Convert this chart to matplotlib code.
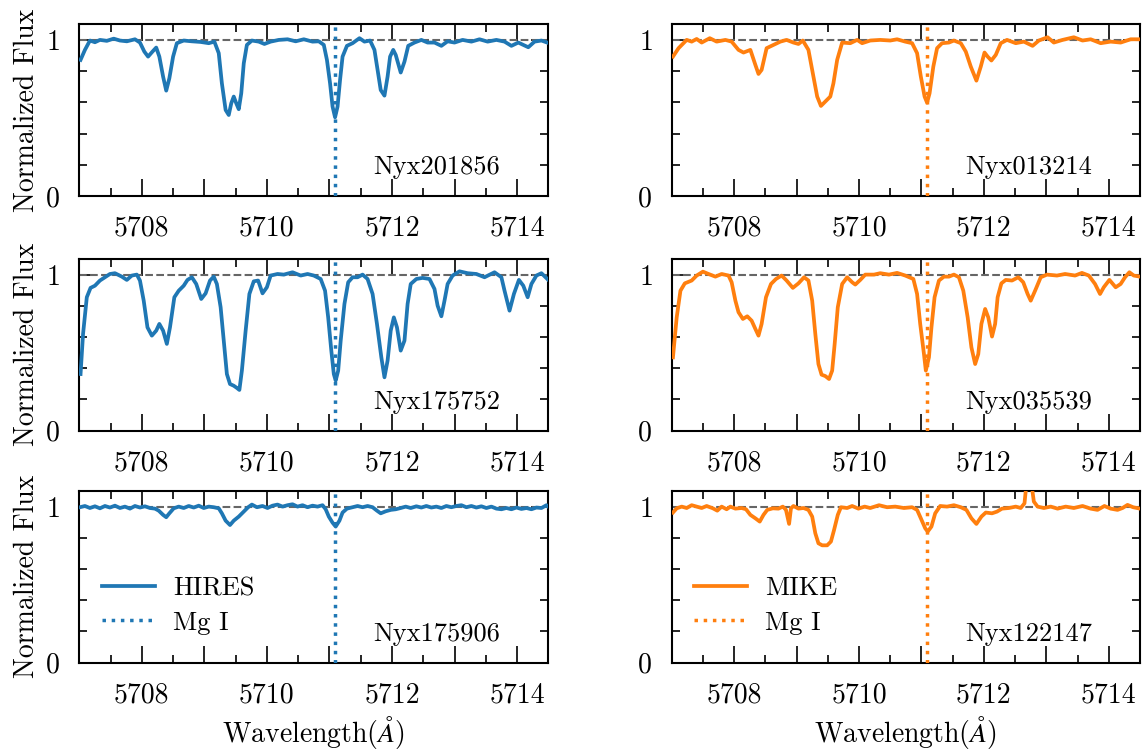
import matplotlib
matplotlib.use("Agg")
import matplotlib.pyplot as plt
from matplotlib.ticker import MultipleLocator, FixedLocator, FuncFormatter

plt.rcParams['font.family'] = ['serif']
plt.rcParams['font.serif'] = ['cmr10', 'DejaVu Serif']
plt.rcParams['mathtext.fontset'] = 'cm'
plt.rcParams['axes.formatter.use_mathtext'] = True

# ---------------- data ----------------
mg_line = 5711.09
instruments = ["HIRES", "MIKE"]
line_label = "Mg I"
colors = ["#1f77b4", "#ff7f0e"]

wave_nyx201856 = [5707.02, 5707.09, 5707.17, 5707.25, 5707.33, 5707.44, 5707.55, 5707.65, 5707.76, 5707.89,
                  5707.97, 5708.04, 5708.10, 5708.17, 5708.23, 5708.28, 5708.34, 5708.39, 5708.44, 5708.50,
                  5708.56, 5708.67, 5708.80, 5708.94, 5709.07, 5709.16, 5709.23, 5709.28, 5709.34, 5709.39,
                  5709.43, 5709.47, 5709.51, 5709.55, 5709.59, 5709.63, 5709.68, 5709.76, 5709.87, 5709.96,
                  5710.06, 5710.19, 5710.33, 5710.46, 5710.59, 5710.73, 5710.83, 5710.91, 5710.96, 5711.01,
                  5711.05, 5711.09, 5711.13, 5711.17, 5711.21, 5711.28, 5711.37, 5711.48, 5711.56, 5711.65,
                  5711.72, 5711.77, 5711.82, 5711.88, 5711.93, 5711.97, 5712.02, 5712.06, 5712.14, 5712.20,
                  5712.26, 5712.36, 5712.47, 5712.57, 5712.68, 5712.79, 5712.89, 5713.00, 5713.13, 5713.27,
                  5713.40, 5713.53, 5713.67, 5713.80, 5713.91, 5714.02, 5714.18, 5714.28, 5714.39, 5714.51]
flux_nyx201856 = [0.872, 0.936, 0.996, 0.985, 1.000, 0.994, 1.008, 0.996, 0.991, 1.004,
                  0.983, 0.925, 0.893, 0.925, 0.951, 0.893, 0.765, 0.675, 0.754, 0.893,
                  0.979, 0.996, 0.991, 0.987, 0.979, 0.989, 0.915, 0.722, 0.551, 0.519,
                  0.594, 0.637, 0.594, 0.556, 0.658, 0.850, 0.968, 0.996, 0.989, 0.974,
                  0.989, 1.000, 1.004, 0.991, 1.004, 0.989, 0.991, 0.968, 0.872, 0.722,
                  0.573, 0.504, 0.573, 0.744, 0.893, 0.962, 0.979, 1.011, 0.989, 0.996,
                  0.936, 0.808, 0.679, 0.643, 0.765, 0.893, 0.936, 0.904, 0.791, 0.861,
                  0.962, 0.983, 1.000, 0.983, 0.983, 0.962, 0.991, 0.983, 1.000, 0.989,
                  1.004, 0.989, 1.000, 0.989, 0.962, 0.983, 0.953, 0.989, 0.996, 0.979]

wave_nyx013214 = [5707.02, 5707.11, 5707.24, 5707.32, 5707.40, 5707.48, 5707.61, 5707.72, 5707.86, 5707.96,
                  5708.07, 5708.15, 5708.26, 5708.34, 5708.39, 5708.44, 5708.52, 5708.63, 5708.74, 5708.84,
                  5708.95, 5709.03, 5709.10, 5709.19, 5709.26, 5709.33, 5709.39, 5709.46, 5709.54, 5709.59,
                  5709.65, 5709.73, 5709.86, 5709.97, 5710.05, 5710.18, 5710.34, 5710.50, 5710.61, 5710.74,
                  5710.85, 5710.93, 5710.99, 5711.05, 5711.09, 5711.13, 5711.19, 5711.25, 5711.33, 5711.44,
                  5711.52, 5711.63, 5711.71, 5711.79, 5711.88, 5711.95, 5712.01, 5712.06, 5712.12, 5712.19,
                  5712.27, 5712.37, 5712.51, 5712.64, 5712.78, 5712.88, 5713.02, 5713.12, 5713.26, 5713.44,
                  5713.58, 5713.71, 5713.87, 5714.03, 5714.19, 5714.35, 5714.50]
flux_nyx013214 = [0.893, 0.947, 1.000, 0.989, 1.006, 0.983, 1.011, 0.989, 1.000, 0.989,
                  0.936, 0.919, 0.936, 0.840, 0.782, 0.808, 0.947, 0.968, 0.989, 1.000,
                  0.983, 0.974, 0.996, 0.936, 0.786, 0.637, 0.577, 0.605, 0.637, 0.722,
                  0.872, 0.983, 0.979, 1.000, 0.979, 0.996, 1.000, 0.996, 1.004, 0.989,
                  0.979, 0.915, 0.765, 0.637, 0.598, 0.658, 0.829, 0.947, 0.979, 0.983,
                  0.996, 0.979, 0.925, 0.829, 0.739, 0.829, 0.919, 0.893, 0.868, 0.904,
                  0.979, 1.000, 0.979, 0.989, 0.962, 0.996, 1.017, 0.983, 1.000, 1.017,
                  0.996, 1.004, 0.979, 0.989, 0.983, 1.004, 1.004]

wave_nyx175752 = [5707.02, 5707.06, 5707.12, 5707.18, 5707.25, 5707.33, 5707.41, 5707.49, 5707.57, 5707.68,
                  5707.76, 5707.84, 5707.92, 5707.97, 5708.03, 5708.09, 5708.16, 5708.23, 5708.28, 5708.34,
                  5708.40, 5708.45, 5708.52, 5708.59, 5708.67, 5708.73, 5708.80, 5708.87, 5708.95, 5709.02,
                  5709.09, 5709.15, 5709.20, 5709.26, 5709.31, 5709.36, 5709.41, 5709.47, 5709.52, 5709.56,
                  5709.60, 5709.66, 5709.72, 5709.79, 5709.86, 5709.93, 5710.00, 5710.06, 5710.17, 5710.27,
                  5710.41, 5710.54, 5710.65, 5710.75, 5710.86, 5710.93, 5710.98, 5711.03, 5711.07, 5711.10,
                  5711.14, 5711.18, 5711.24, 5711.30, 5711.37, 5711.45, 5711.53, 5711.61, 5711.69, 5711.76,
                  5711.83, 5711.88, 5711.93, 5711.98, 5712.03, 5712.08, 5712.14, 5712.20, 5712.25, 5712.30,
                  5712.39, 5712.49, 5712.60, 5712.68, 5712.73, 5712.79, 5712.84, 5712.89, 5712.97, 5713.08,
                  5713.21, 5713.35, 5713.48, 5713.64, 5713.75, 5713.80, 5713.88, 5713.95, 5714.03, 5714.10,
                  5714.17, 5714.23, 5714.31, 5714.39, 5714.51]
flux_nyx175752 = [0.363, 0.620, 0.855, 0.915, 0.929, 0.962, 0.983, 1.004, 1.009, 0.987,
                  0.966, 0.994, 1.000, 0.962, 0.833, 0.662, 0.609, 0.641, 0.684, 0.641,
                  0.556, 0.662, 0.855, 0.897, 0.929, 0.966, 0.983, 0.940, 0.844, 0.880,
                  0.962, 0.987, 0.940, 0.791, 0.577, 0.363, 0.299, 0.288, 0.274, 0.261,
                  0.385, 0.641, 0.876, 0.957, 0.962, 0.880, 0.919, 0.994, 1.004, 1.000,
                  1.015, 0.994, 1.004, 0.994, 0.972, 0.897, 0.726, 0.513, 0.363, 0.321,
                  0.385, 0.577, 0.812, 0.951, 0.983, 0.983, 1.000, 0.972, 0.876, 0.684,
                  0.470, 0.342, 0.449, 0.641, 0.726, 0.662, 0.513, 0.577, 0.812, 0.940,
                  0.972, 0.979, 0.972, 0.908, 0.801, 0.733, 0.833, 0.940, 0.994, 1.021,
                  1.009, 1.004, 0.983, 1.015, 0.983, 0.897, 0.769, 0.876, 0.966, 0.929,
                  0.855, 0.940, 0.994, 1.009, 0.962]

wave_nyx035539 = [5707.02, 5707.08, 5707.14, 5707.21, 5707.32, 5707.40, 5707.50, 5707.59, 5707.70, 5707.80,
                  5707.91, 5707.96, 5708.02, 5708.07, 5708.14, 5708.21, 5708.28, 5708.34, 5708.39, 5708.44,
                  5708.51, 5708.59, 5708.67, 5708.76, 5708.84, 5708.94, 5709.03, 5709.12, 5709.19, 5709.25,
                  5709.30, 5709.35, 5709.40, 5709.46, 5709.52, 5709.57, 5709.61, 5709.66, 5709.73, 5709.81,
                  5709.89, 5709.94, 5710.02, 5710.10, 5710.24, 5710.34, 5710.48, 5710.61, 5710.74, 5710.87,
                  5710.93, 5710.98, 5711.04, 5711.07, 5711.12, 5711.16, 5711.21, 5711.28, 5711.36, 5711.44,
                  5711.52, 5711.60, 5711.67, 5711.74, 5711.80, 5711.86, 5711.91, 5711.96, 5712.02, 5712.07,
                  5712.13, 5712.18, 5712.22, 5712.28, 5712.35, 5712.45, 5712.55, 5712.63, 5712.70, 5712.75,
                  5712.82, 5712.91, 5713.01, 5713.17, 5713.30, 5713.46, 5713.57, 5713.68, 5713.78, 5713.86,
                  5713.92, 5714.01, 5714.11, 5714.19, 5714.26, 5714.33, 5714.40, 5714.50]
flux_nyx035539 = [0.470, 0.726, 0.897, 0.944, 0.962, 0.994, 1.019, 1.004, 0.987, 1.004,
                  0.994, 0.951, 0.833, 0.759, 0.716, 0.733, 0.705, 0.652, 0.609, 0.684,
                  0.855, 0.940, 0.972, 0.994, 0.962, 0.915, 0.944, 0.983, 0.962, 0.833,
                  0.620, 0.427, 0.359, 0.350, 0.331, 0.385, 0.556, 0.791, 0.940, 0.983,
                  0.951, 0.936, 0.966, 1.000, 1.000, 1.009, 1.000, 1.011, 0.994, 0.972,
                  0.876, 0.684, 0.491, 0.385, 0.470, 0.662, 0.855, 0.962, 0.987, 0.987,
                  1.000, 0.983, 0.897, 0.726, 0.534, 0.427, 0.491, 0.684, 0.780, 0.726,
                  0.603, 0.684, 0.855, 0.944, 0.966, 0.962, 0.983, 0.951, 0.876, 0.833,
                  0.897, 0.983, 1.000, 0.994, 1.004, 0.994, 1.011, 0.994, 0.940, 0.876,
                  0.919, 0.966, 0.919, 0.940, 0.983, 1.015, 0.994, 0.987]

wave_nyx175906 = [5707.01, 5707.09, 5707.17, 5707.25, 5707.33, 5707.41, 5707.49, 5707.57, 5707.65, 5707.73,
                  5707.81, 5707.89, 5707.97, 5708.05, 5708.13, 5708.21, 5708.27, 5708.34, 5708.39, 5708.44,
                  5708.51, 5708.59, 5708.67, 5708.75, 5708.83, 5708.91, 5708.99, 5709.07, 5709.15, 5709.23,
                  5709.28, 5709.34, 5709.41, 5709.47, 5709.55, 5709.63, 5709.70, 5709.76, 5709.84, 5709.93,
                  5710.01, 5710.09, 5710.17, 5710.25, 5710.33, 5710.41, 5710.49, 5710.57, 5710.65, 5710.73,
                  5710.81, 5710.89, 5710.94, 5710.99, 5711.05, 5711.10, 5711.16, 5711.21, 5711.28, 5711.37,
                  5711.45, 5711.53, 5711.61, 5711.69, 5711.76, 5711.82, 5711.90, 5711.98, 5712.06, 5712.14,
                  5712.22, 5712.30, 5712.39, 5712.47, 5712.55, 5712.63, 5712.71, 5712.79, 5712.87, 5712.95,
                  5713.03, 5713.11, 5713.19, 5713.27, 5713.35, 5713.43, 5713.51, 5713.59, 5713.67, 5713.75,
                  5713.83, 5713.91, 5713.99, 5714.07, 5714.15, 5714.23, 5714.31, 5714.39, 5714.47, 5714.51]
flux_nyx175906 = [0.996, 1.004, 0.991, 1.002, 0.989, 1.004, 0.994, 1.006, 0.991, 1.000,
                  0.987, 1.004, 0.994, 1.002, 0.991, 0.987, 0.974, 0.947, 0.932, 0.957,
                  0.989, 1.000, 0.991, 1.004, 0.994, 1.006, 0.991, 1.000, 0.996, 0.989,
                  0.957, 0.910, 0.882, 0.910, 0.936, 0.968, 0.996, 1.013, 0.996, 1.004,
                  0.991, 1.006, 1.013, 1.000, 1.009, 1.015, 1.000, 1.009, 0.996, 1.006,
                  1.000, 1.009, 0.983, 0.936, 0.897, 0.872, 0.910, 0.962, 0.987, 0.996,
                  1.004, 0.996, 1.004, 0.996, 0.974, 0.957, 0.970, 0.979, 0.983, 0.991,
                  1.000, 0.991, 1.002, 0.994, 1.004, 0.994, 1.000, 0.991, 1.004, 0.996,
                  1.004, 1.009, 0.996, 1.004, 0.994, 1.002, 0.991, 1.000, 0.987, 0.983,
                  0.991, 0.983, 0.994, 0.985, 0.991, 0.983, 0.994, 0.991, 1.009, 0.996]

wave_nyx122147 = [5707.02, 5707.08, 5707.16, 5707.24, 5707.32, 5707.40, 5707.48, 5707.56, 5707.66, 5707.73,
                  5707.80, 5707.88, 5707.94, 5708.02, 5708.12, 5708.19, 5708.26, 5708.34, 5708.41, 5708.47,
                  5708.53, 5708.62, 5708.71, 5708.78, 5708.83, 5708.88, 5708.91, 5708.95, 5709.03, 5709.11,
                  5709.19, 5709.25, 5709.30, 5709.35, 5709.41, 5709.49, 5709.55, 5709.60, 5709.66, 5709.71,
                  5709.81, 5709.89, 5709.99, 5710.09, 5710.18, 5710.32, 5710.45, 5710.58, 5710.72, 5710.85,
                  5710.93, 5710.99, 5711.06, 5711.10, 5711.16, 5711.22, 5711.30, 5711.41, 5711.52, 5711.63,
                  5711.72, 5711.80, 5711.88, 5711.96, 5712.03, 5712.13, 5712.21, 5712.29, 5712.40, 5712.51,
                  5712.59, 5712.65, 5712.69, 5712.75, 5712.80, 5712.86, 5712.96, 5713.07, 5713.18, 5713.31,
                  5713.44, 5713.58, 5713.71, 5713.82, 5713.93, 5714.03, 5714.14, 5714.22, 5714.30, 5714.39,
                  5714.50]
flux_nyx122147 = [0.962, 0.989, 1.000, 0.991, 1.009, 1.000, 0.991, 1.004, 0.989, 0.974,
                  1.000, 0.983, 1.000, 0.987, 0.991, 0.983, 0.947, 0.925, 0.904, 0.947,
                  0.979, 0.989, 0.987, 1.000, 0.979, 0.889, 0.989, 1.004, 0.987, 0.991,
                  0.979, 0.936, 0.829, 0.765, 0.752, 0.752, 0.776, 0.850, 0.947, 0.996,
                  0.991, 1.004, 0.987, 1.000, 0.991, 1.009, 0.996, 1.000, 0.991, 0.996,
                  0.979, 0.925, 0.861, 0.840, 0.872, 0.957, 1.004, 1.000, 1.009, 0.996,
                  0.979, 0.925, 0.889, 0.936, 0.962, 0.957, 0.968, 0.987, 0.991, 1.000,
                  0.991, 1.021, 1.180, 1.180, 1.032, 1.000, 0.991, 1.000, 0.987, 1.000,
                  0.991, 1.004, 0.987, 0.979, 1.004, 0.987, 0.979, 0.991, 1.011, 0.996,
                  0.987]

panels = [
    # (row, col, star name, wavelengths, fluxes)
    (0, 0, "Nyx201856", wave_nyx201856, flux_nyx201856),
    (0, 1, "Nyx013214", wave_nyx013214, flux_nyx013214),
    (1, 0, "Nyx175752", wave_nyx175752, flux_nyx175752),
    (1, 1, "Nyx035539", wave_nyx035539, flux_nyx035539),
    (2, 0, "Nyx175906", wave_nyx175906, flux_nyx175906),
    (2, 1, "Nyx122147", wave_nyx122147, flux_nyx122147),
]

# ---------------- figure ----------------
W, H = 1146, 751
fig = plt.figure(figsize=(W / 100, H / 100), dpi=100)

col_left = [79.3, 671.7]
col_width = [469.0, 468.3]
row_top = [24.3, 259.0, 491.0]
row_height = 171.7

FS = 20

for row, col, name, wl, fl in panels:
    rect = [col_left[col] / W, 1 - (row_top[row] + row_height) / H,
            col_width[col] / W, row_height / H]
    ax = fig.add_axes(rect)
    c = colors[col]
    ax.plot(wl, fl, color=c, lw=2.7, label=instruments[col], zorder=3)
    ax.axhline(1.0, color='0.4', lw=1.5, ls='--', zorder=2)
    ax.axvline(mg_line, color=c, lw=2.5, ls=':', label=line_label, zorder=4)
    ax.set_xlim(5707, 5714.5)
    ax.set_ylim(0, 1.1)

    ax.xaxis.set_major_locator(MultipleLocator(1))
    ax.xaxis.set_minor_locator(MultipleLocator(0.5))
    ax.xaxis.set_major_formatter(FuncFormatter(
        lambda v, p: f"{int(round(v))}" if int(round(v)) % 2 == 0 else ""))
    ax.yaxis.set_major_locator(FixedLocator([0, 1]))
    ax.yaxis.set_minor_locator(FixedLocator([0.2, 0.4, 0.6, 0.8]))

    ax.tick_params(which='both', direction='in', top=True, right=True,
                   labelsize=FS, pad=14)
    ax.tick_params(which='major', length=12, width=1.2)
    ax.tick_params(which='minor', length=5.5, width=1.2)
    for s in ax.spines.values():
        s.set_linewidth(1.5)

    ax.text(0.897, 0.128, name, transform=ax.transAxes, ha='right',
            va='baseline', fontsize=19)

    if col == 0:
        ax.set_ylabel("Normalized Flux", fontsize=FS, labelpad=4)
    if row == 2:
        ax.set_xlabel(r"Wavelength($\AA$)", fontsize=FS, labelpad=4)
        ax.legend(loc='center left', bbox_to_anchor=(0.048, 0.332),
                  frameon=False, fontsize=19, borderpad=0, borderaxespad=0,
                  handlelength=2.0, handletextpad=0.7, labelspacing=0.4)

fig.savefig("out.png", dpi=100)
